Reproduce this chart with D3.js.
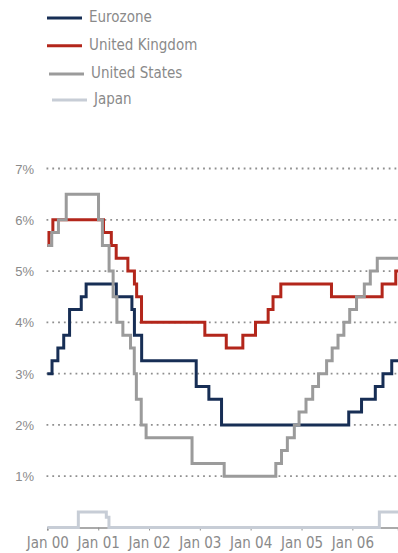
<!DOCTYPE html>
<html>
<head>
<meta charset="utf-8">
<script src="https://cdn.jsdelivr.net/npm/d3@7"></script>
<style>
  html, body { margin: 0; padding: 0; background: #fff; }
  svg { display: block; }
  text { font-family: "Liberation Sans Narrow", "DejaVu Sans Condensed", "Liberation Sans", sans-serif; fill: #8a8a8a; }
</style>
</head>
<body>
<svg id="chart" width="398" height="553"></svg>
<script>
// Official policy rates, % (date of change, new rate)
const eurozone = [
  ["2000-01-01", 3.0], ["2000-02-04", 3.25], ["2000-03-17", 3.5], ["2000-04-28", 3.75],
  ["2000-06-09", 4.25], ["2000-09-01", 4.5], ["2000-10-06", 4.75], ["2001-05-11", 4.5],
  ["2001-08-31", 4.25], ["2001-09-18", 3.75], ["2001-11-09", 3.25], ["2002-12-06", 2.75],
  ["2003-03-07", 2.5], ["2003-06-06", 2.0], ["2005-12-06", 2.25], ["2006-03-08", 2.5],
  ["2006-06-15", 2.75], ["2006-08-09", 3.0], ["2006-10-11", 3.25]
];
const unitedKingdom = [
  ["2000-01-01", 5.5], ["2000-01-13", 5.75], ["2000-02-10", 6.0], ["2001-02-08", 5.75],
  ["2001-04-05", 5.5], ["2001-05-10", 5.25], ["2001-08-02", 5.0], ["2001-09-18", 4.75],
  ["2001-10-04", 4.5], ["2001-11-08", 4.0], ["2003-02-06", 3.75], ["2003-07-10", 3.5],
  ["2003-11-06", 3.75], ["2004-02-05", 4.0], ["2004-05-06", 4.25], ["2004-06-10", 4.5],
  ["2004-08-05", 4.75], ["2005-08-04", 4.5], ["2006-08-03", 4.75], ["2006-11-09", 5.0]
];
const unitedStates = [
  ["2000-01-01", 5.5], ["2000-02-02", 5.75], ["2000-03-21", 6.0], ["2000-05-16", 6.5],
  ["2001-01-03", 6.0], ["2001-01-31", 5.5], ["2001-03-20", 5.0], ["2001-04-18", 4.5],
  ["2001-05-15", 4.0], ["2001-06-27", 3.75], ["2001-08-21", 3.5], ["2001-09-17", 3.0],
  ["2001-10-02", 2.5], ["2001-11-06", 2.0], ["2001-12-11", 1.75], ["2002-11-06", 1.25],
  ["2003-06-25", 1.0], ["2004-06-30", 1.25], ["2004-08-10", 1.5], ["2004-09-21", 1.75],
  ["2004-11-10", 2.0], ["2004-12-14", 2.25], ["2005-02-02", 2.5], ["2005-03-22", 2.75],
  ["2005-05-03", 3.0], ["2005-06-30", 3.25], ["2005-08-09", 3.5], ["2005-09-20", 3.75],
  ["2005-11-01", 4.0], ["2005-12-13", 4.25], ["2006-01-31", 4.5], ["2006-03-28", 4.75],
  ["2006-05-10", 5.0], ["2006-06-29", 5.25]
];
const japan = [
  ["2000-01-01", 0.0], ["2000-08-11", 0.3], ["2001-02-28", 0.2], ["2001-03-19", 0.0],
  ["2006-07-14", 0.3]
];

const seriesNames = ["Eurozone", "United Kingdom", "United States", "Japan"];
const seriesColors = ["#172e55", "#b3261b", "#9b9b9b", "#c7cdd6"];
const yTicks = [1, 2, 3, 4, 5, 6, 7];
const xTickYears = ["2000", "2001", "2002", "2003", "2004", "2005", "2006"];
const periodStart = "2000-01-01";
const periodEnd = "2006-11-25";

const parse = d3.timeParse("%Y-%m-%d");
const svg = d3.select("#chart");

const x = d3.scaleTime().domain([parse(periodStart), parse(periodEnd)]).range([47.3, 398]);
const y = d3.scaleLinear().domain([0, 7]).range([527.5, 168.5]);

// Dotted horizontal gridlines with percentage labels
const grid = svg.append("g");
grid.selectAll("line").data(yTicks).join("line")
  .attr("x1", 46.5).attr("x2", 398)
  .attr("y1", d => y(d)).attr("y2", d => y(d))
  .attr("stroke", "#8f8f8f").attr("stroke-width", 1.8)
  .attr("stroke-dasharray", "1.8,4");
grid.selectAll("text").data(yTicks).join("text")
  .attr("x", 34).attr("y", d => y(d) + 5)
  .attr("text-anchor", "end")
  .style("font-family", "'Liberation Sans', Arial, sans-serif")
  .style("font-size", "13px")
  .text(d => d + "%");

// Time axis along the zero line
const xAxis = d3.axisBottom(x)
  .tickValues(xTickYears.map(yr => parse(yr + "-01-01")))
  .tickFormat(d3.timeFormat("Jan %y"))
  .tickSize(3).tickPadding(7);
const axisG = svg.append("g").attr("transform", `translate(0,${y(0)})`).call(xAxis);
axisG.select(".domain").attr("stroke", "#8f8f8f").attr("stroke-width", 1.5);
axisG.selectAll(".tick line").attr("stroke", "#8f8f8f");
axisG.selectAll(".tick text").attr("fill", "#8a8a8a").style("font-size", "15px");

// Step lines, extended to the end of the period
const series = [eurozone, unitedKingdom, unitedStates, japan].map(s => {
  const pts = s.map(([d, v]) => ({ date: parse(d), value: v }));
  pts.push({ date: parse(periodEnd), value: pts[pts.length - 1].value });
  return pts;
});
const line = d3.line().x(d => x(d.date)).y(d => y(d.value)).curve(d3.curveStepAfter);
const drawOrder = [3, 0, 1, 2];
svg.append("g").selectAll("path").data(drawOrder).join("path")
  .attr("d", i => line(series[i]))
  .attr("fill", "none")
  .attr("stroke", i => seriesColors[i])
  .attr("stroke-width", 3)
  .attr("stroke-linejoin", "miter");

// Legend
const legendRows = [
  { y: 18, x: 47 }, { y: 45.7, x: 47 }, { y: 74, x: 49 }, { y: 100, x: 52 }
];
const legend = svg.append("g");
seriesNames.forEach((name, i) => {
  const r = legendRows[i];
  legend.append("line")
    .attr("x1", r.x).attr("x2", r.x + 35).attr("y1", r.y).attr("y2", r.y)
    .attr("stroke", seriesColors[i]).attr("stroke-width", 3);
  legend.append("text")
    .attr("x", r.x + 42).attr("y", r.y + 4)
    .style("font-size", "15px")
    .text(name);
});
</script>
</body>
</html>
